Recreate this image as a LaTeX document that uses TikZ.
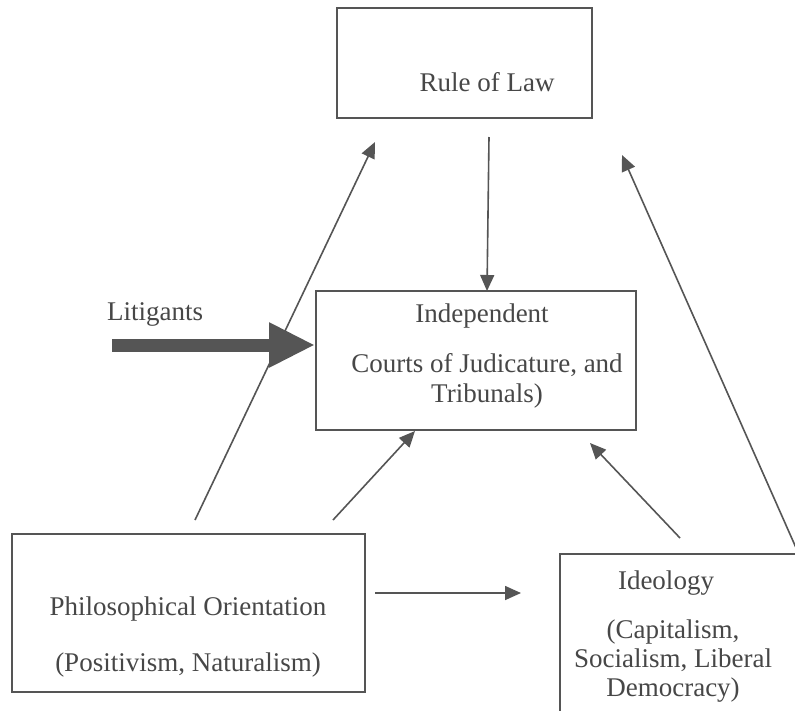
\documentclass[tikz,border=0pt]{standalone}
\usepackage{fontspec}
\setmainfont{Liberation Serif}
\usetikzlibrary{arrows.meta}
\definecolor{ink}{HTML}{555555}
\definecolor{txt}{HTML}{474747}
\begin{document}
\begin{tikzpicture}[x=1pt,y=-1pt,
  box/.style={draw=ink,line width=1.8pt,inner sep=0pt},
  lbl/.style={text=txt,font=\fontsize{27}{32}\selectfont,inner sep=0pt,anchor=base},
  conn/.style={draw=ink,line width=1.6pt,-{Triangle[length=16pt,width=14pt]}}]
\useasboundingbox[fill=white] (0,0) rectangle (795,710);
% boxes
\node[box,minimum width=255pt,minimum height=110pt] (rule) at (464.5,63) {};
\node[box,minimum width=320pt,minimum height=139pt] (indep) at (476,360.5) {};
\node[box,minimum width=353pt,minimum height=158pt] (phil) at (188.5,613) {};
\node[box,minimum width=250pt,minimum height=170pt] (ideo) at (685,639) {};
% texts
\node[lbl] (t1) at (487,91) {Rule of Law};
\node[lbl] (t2) at (482,322) {Independent};
\node[lbl] (t3) at (487,372) {Courts of Judicature, and};
\node[lbl] (t4) at (487,402) {Tribunals)};
\node[lbl] (t5) at (188,615) {Philosophical Orientation};
\node[lbl] (t6) at (188,671) {(Positivism, Naturalism)};
\node[lbl] (t7) at (666,589) {Ideology};
\node[lbl] (t8) at (673,638) {(Capitalism,};
\node[lbl] (t9) at (673,667) {Socialism, Liberal};
\node[lbl] (t10) at (673,696) {Democracy)};
\node[lbl] (lit) at (155,320) {Litigants};
% arrow end points
\coordinate (a1s) at (489,137); \coordinate (a1e) at (487,291);
\coordinate (a2s) at (195,520); \coordinate (a2e) at (375,142);
\coordinate (a3s) at (797,550); \coordinate (a3e) at (622,155);
\coordinate (a4s) at (333,520); \coordinate (a4e) at (415,431);
\coordinate (a5s) at (680,538); \coordinate (a5e) at (590,443);
\coordinate (a6s) at (375,593); \coordinate (a6e) at (521,593);
\coordinate (ls) at (112,345); \coordinate (le) at (315,345);
% connectors
\draw[conn] (a1s) -- (a1e);
\draw[conn] (a2s) -- (a2e);
\draw[conn] (a3s) -- (a3e);
\draw[conn] (a4s) -- (a4e);
\draw[conn] (a5s) -- (a5e);
\draw[conn] (a6s) -- (a6e);
\draw[draw=ink,line width=13pt,-{Triangle[length=46pt,width=42pt]}] (ls) -- (le);
\end{tikzpicture}
\end{document}
